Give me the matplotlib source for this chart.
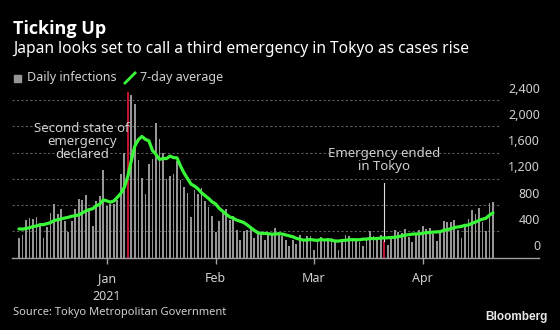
import matplotlib

matplotlib.use("Agg")
import matplotlib.pyplot as plt
import matplotlib.dates as mdates
from matplotlib import font_manager
import pandas as pd

# Tokyo daily new infections, Dec 7 2020 - Apr 21 2021
dates = pd.date_range("2020-12-07", "2021-04-21", freq="D")
daily = [
    # Dec 7 - Dec 31
    299, 352, 572, 602, 595, 621, 480, 305, 460, 678, 822, 664, 736, 556, 392,
    563, 748, 888, 884, 949, 708, 481, 856, 944, 1337,
    # Jan
    783, 814, 816, 884, 1278, 1591, 2520, 2470, 2340, 1494, 1219, 970, 1433,
    1502, 2044, 1809, 1592, 1204, 1240, 1274, 1471, 1175, 1070, 986, 618, 1026,
    973, 1064, 868, 769, 633,
    # Feb
    393, 556, 676, 734, 577, 639, 429, 276, 412, 429, 434, 307, 369, 371, 266,
    378, 378, 445, 353, 327, 272, 178, 275, 213, 340, 270, 337, 329,
    # Mar
    121, 232, 316, 279, 301, 293, 237, 116, 290, 340, 335, 304, 289, 239, 175,
    300, 409, 323, 303, 342, 256, 187, 337, 420, 394, 376, 430, 313, 234, 364, 414,
    # Apr 1 - Apr 21
    475, 440, 446, 355, 249, 399, 555, 545, 537, 570, 421, 306, 510, 591, 729,
    667, 759, 543, 405, 840, 843,
]
avg7 = [
    438, 435, 445, 455, 476, 481, 503, 504, 519, 534, 566, 576, 592, 603, 615,
    630, 640, 650, 681, 711, 733, 746, 788, 816, 880,
    865, 846, 862, 919, 979, 1072, 1240, 1481, 1700, 1797, 1845, 1801, 1778,
    1632, 1572, 1496, 1510, 1508, 1546, 1524, 1519, 1395, 1289, 1203, 1119, 1089,
    1046, 987, 944, 901, 850,
    818, 751, 708, 661, 620, 601, 572, 555, 535, 499, 457, 418, 379, 371, 370,
    365, 358, 359, 366, 360, 346, 333, 318, 295, 280, 268, 269, 277,
    269, 263, 278, 269, 274, 267, 254, 253, 262, 265, 273, 274, 273, 273, 282,
    283, 293, 291, 291, 299, 301, 303, 308, 310, 320, 330, 343, 351, 358, 362, 361,
    372, 381, 384, 390, 392, 397, 417, 427, 441, 459, 468, 476, 492, 497, 523,
    542, 569, 586, 601, 647, 683,
]
declared_day = pd.Timestamp("2021-01-07")
ended_day = pd.Timestamp("2021-03-21")
y_ticks = [0, 400, 800, 1200, 1600, 2000, 2400]
month_ticks = pd.to_datetime(["2021-01-01", "2021-02-01", "2021-03-01", "2021-04-01"])
month_labels = ["Jan\n2021", "Feb", "Mar", "Apr"]

BG = "black"
BAR_GREY = "#969696"
RED = "#c0152f"
GREEN = "#38f838"
GRID = "#5c5c5c"
TXT = "#d0d0d0"


def bold_family(candidates):
    # first family that really ships a bold face
    for fam in candidates:
        try:
            path = font_manager.findfont(font_manager.FontProperties(family=fam, weight="bold"),
                                         fallback_to_default=False)
        except ValueError:
            continue
        if "bold" in path.lower():
            return fam
    return "DejaVu Sans"


plt.rcParams["font.family"] = ["Noto Sans", "DejaVu Sans"]
TITLE_FAMILY = bold_family(["Noto Sans", "Open Sans", "Lato", "Roboto"])

W, H = 560, 330
fig = plt.figure(figsize=(W / 100, H / 100), dpi=100, facecolor=BG)


def fx(px):
    return px / W


def fy(py):
    return 1 - py / H


x0, x1, ybase, ytop = 12, 500, 257.7, 88
ax = fig.add_axes([fx(x0), fy(ybase), (x1 - x0) / W, (ybase - ytop) / H])
ax.set_facecolor(BG)
ax.set_ylim(0, 2400 * (ybase - ytop) / (ybase - 100))
ax.set_xlim(pd.Timestamp("2020-12-05"), pd.Timestamp("2021-04-23"))

colors = [RED if d in (declared_day, ended_day) else BAR_GREY for d in dates]
ax.bar(dates, daily, width=0.5, color=colors, linewidth=0, zorder=2)
ax.plot(dates, avg7, color=GREEN, lw=2.3, solid_capstyle="round", zorder=4)

# dotted gridlines, value labels sit above each line on the right
for v in y_ticks[1:]:
    ax.axhline(v, color=GRID, lw=0.8, ls=(0, (2, 2)), zorder=1)
for v in y_ticks:
    ax.annotate(f"{v:,}", xy=(1, v), xycoords=("axes fraction", "data"),
                xytext=(40, 11), textcoords="offset pixels",
                ha="right", va="center", fontsize=9, color=TXT, annotation_clip=False)

for s in ax.spines.values():
    s.set_visible(False)
ax.plot([0, (539 - x0) / (x1 - x0)], [0, 0], transform=ax.transAxes, color="#a0a0a0",
        lw=1, clip_on=False, zorder=5)
ax.set_yticks([])
ax.set_xticks(month_ticks)
ax.set_xticklabels(month_labels, fontsize=9, color=TXT, linespacing=1.5)
ax.tick_params(axis="x", length=4, width=1, color="#a0a0a0", pad=6)

# event notes
ax.text(pd.Timestamp("2020-12-25"), 1775, "Second state of\nemergency\ndeclared",
        ha="center", va="center", fontsize=9.5, color=TXT, linespacing=1.0, zorder=6)
ax.text(ended_day, 1481, "Emergency ended\nin Tokyo",
        ha="center", va="center", fontsize=9.5, color=TXT, linespacing=1.0, zorder=6)
ax.plot([ended_day, ended_day], [daily[dates.get_loc(ended_day)], 1136],
        color="#e0e0e0", lw=0.8, zorder=3)

# header
fig.text(fx(13), fy(34), "Ticking Up", fontsize=13, fontweight="bold", color="white",
         family=TITLE_FAMILY, va="baseline")
fig.text(fx(13), fy(53), "Japan looks set to call a third emergency in Tokyo as cases rise",
         fontsize=11.2, color="white", va="baseline")
fig.patches.append(plt.Rectangle((fx(14), fy(82)), 7 / W, 7 / H, transform=fig.transFigure,
                                 color=BAR_GREY))
fig.text(fx(27), fy(78), "Daily infections", fontsize=9, color=TXT, va="center")
fig.lines.append(plt.Line2D([fx(125), fx(135)], [fy(83), fy(73)], transform=fig.transFigure,
                            color=GREEN, lw=2))
fig.text(fx(140), fy(78), "7-day average", fontsize=9, color=TXT, va="center")

# footer
fig.text(fx(13), fy(313), "Source: Tokyo Metropolitan Government", fontsize=8,
         color=TXT, va="center")
fig.text(fx(548), fy(317), "Bloomberg", fontsize=8.5, fontweight="bold", color="#e8e8e8",
         family="Liberation Sans", ha="right", va="center")

fig.savefig("out.png", dpi=100, facecolor=BG)
